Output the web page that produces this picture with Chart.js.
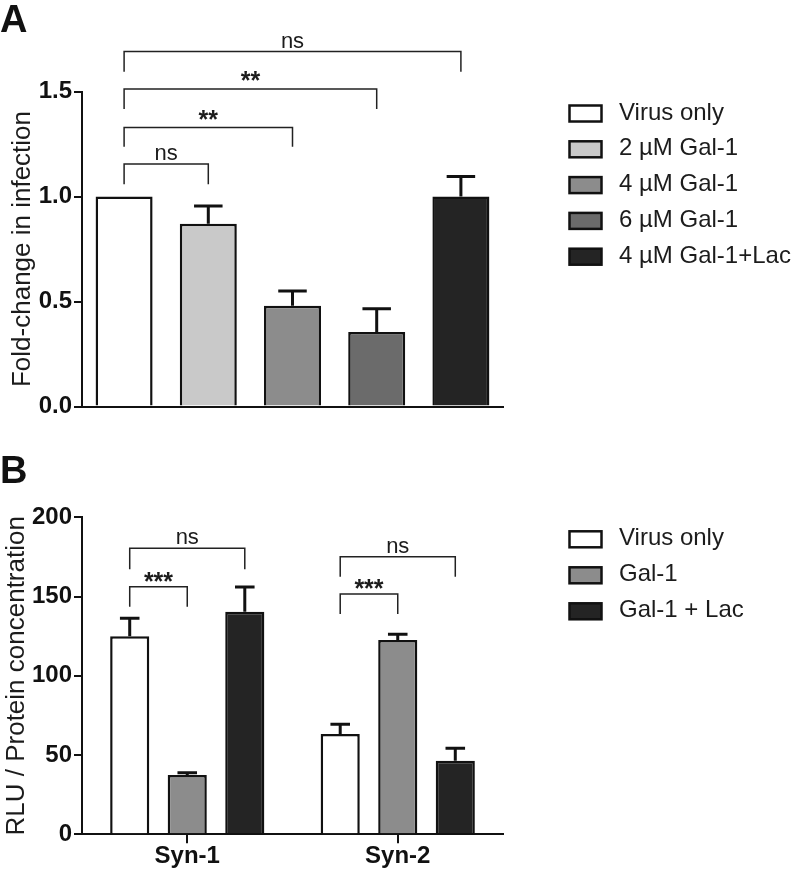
<!DOCTYPE html>
<html>
<head>
<meta charset="utf-8">
<script src="https://cdn.jsdelivr.net/npm/chart.js"></script>
<style>
  html, body { margin: 0; padding: 0; background: #fff; }
  #wrap { position: relative; width: 798px; height: 875px; }
  .panel { position: absolute; left: 0; width: 798px; }
  #panelA { top: 0; height: 430px; }
  #panelB { top: 430px; height: 445px; }
  .tag { position: absolute; left: 0; font: bold 38px/38px "Liberation Sans", Arial, sans-serif; color: #111; }
</style>
</head>
<body>
<div id="wrap">
  <div class="panel" id="panelA"><canvas id="chartA"></canvas></div>
  <div class="panel" id="panelB"><canvas id="chartB"></canvas></div>
  <div class="tag" style="top:0">A</div>
  <div class="tag" style="top:451px">B</div>
</div>
<script>
/* ---------- data, panel A ---------- */
const groupsA = ['Virus only', '2 µM Gal-1', '4 µM Gal-1', '6 µM Gal-1', '4 µM Gal-1+Lac'];
const foldChange = [1.0, 0.87, 0.48, 0.355, 1.0];
const foldChangeSem = [0, 0.085, 0.07, 0.11, 0.095];
const bracketsA = [
  { from: [0, 0], to: [0, 1], level: 1.155, drop: 1.058, label: 'ns' },
  { from: [0, 0], to: [0, 2], level: 1.328, drop: 1.237, label: '**' },
  { from: [0, 0], to: [0, 3], level: 1.512, drop: 1.417, label: '**' },
  { from: [0, 0], to: [0, 4], level: 1.690, drop: 1.594, label: 'ns' },
];

/* ---------- data, panel B ---------- */
const cellLines = ['Syn-1', 'Syn-2'];
const treatmentsB = ['Virus only', 'Gal-1', 'Gal-1 + Lac'];
const virusOnly = [125, 63.3];
const virusOnlySem = [11.3, 6.1];
const gal1 = [37.4, 122.6];
const gal1Sem = [1.5, 3.6];
const gal1Lac = [140.4, 46.4];
const gal1LacSem = [15.6, 7.9];
const bracketsB = [
  { from: [0, 0], to: [2, 0], level: 180.4, drop: 167.2, label: 'ns' },
  { from: [0, 0], to: [1, 0], level: 156.2, drop: 143.6, label: '***' },
  { from: [0, 1], to: [2, 1], level: 175.1, drop: 162.5, label: 'ns' },
  { from: [0, 1], to: [1, 1], level: 151.6, drop: 139.0, label: '***' },
];

const INK = '#111';
const TEXT = '#1c1c1c';
const FILL_A = ['#ffffff', '#c9c9c9', '#8c8c8c', '#6b6b6b', '#242424'];
const FILL_B = ['#ffffff', '#8c8c8c', '#242424'];
const SANS = '"Liberation Sans", Arial, sans-serif';
const TICK_FONT = { family: SANS, size: 24, weight: 'bold', lineHeight: 1 };

// error bars (upper half only, like the original)
const errorBars = {
  id: 'errorBars',
  afterDatasetsDraw(chart) {
    const ctx = chart.ctx;
    const y = chart.scales.y;
    ctx.save();
    ctx.strokeStyle = INK;
    ctx.lineWidth = 3;
    chart.data.datasets.forEach((ds, di) => {
      chart.getDatasetMeta(di).data.forEach((bar, i) => {
        const err = ds.errors[i];
        if (!err) return;
        const top = y.getPixelForValue(ds.data[i] + err);
        const half = bar.width / 4;
        ctx.beginPath();
        ctx.moveTo(bar.x, bar.y);
        ctx.lineTo(bar.x, top);
        ctx.moveTo(bar.x - half, top);
        ctx.lineTo(bar.x + half, top);
        ctx.stroke();
      });
    });
    ctx.restore();
  }
};

// significance brackets
const brackets = {
  id: 'brackets',
  afterDraw(chart, args, opts) {
    const ctx = chart.ctx;
    const y = chart.scales.y;
    const xOf = ([d, i]) => chart.getDatasetMeta(d).data[i].x;
    ctx.save();
    ctx.strokeStyle = '#222';
    ctx.fillStyle = TEXT;
    ctx.lineWidth = 1.5;
    ctx.textAlign = 'center';
    ctx.textBaseline = 'alphabetic';
    opts.items.forEach(b => {
      const x1 = xOf(b.from), x2 = xOf(b.to);
      const yl = y.getPixelForValue(b.level), yd = y.getPixelForValue(b.drop);
      ctx.beginPath();
      ctx.moveTo(x1, yd);
      ctx.lineTo(x1, yl);
      ctx.lineTo(x2, yl);
      ctx.lineTo(x2, yd);
      ctx.stroke();
      const stars = b.label.startsWith('*');
      ctx.font = stars ? 'bold 25px ' + SANS : '22px ' + SANS;
      ctx.fillText(b.label, (x1 + x2) / 2, yl + (stars ? opts.starShift : -4));
    });
    ctx.restore();
  }
};

// legend drawn to the right of the plot
const boxLegend = {
  id: 'boxLegend',
  afterDraw(chart, args, opts) {
    const ctx = chart.ctx;
    ctx.save();
    ctx.font = '24px ' + SANS;
    ctx.textBaseline = 'alphabetic';
    opts.labels.forEach((label, i) => {
      const cy = opts.top + i * opts.step;
      ctx.fillStyle = opts.colors[i];
      ctx.fillRect(569.5, cy - 8, 32, 16);
      ctx.lineWidth = 2.5;
      ctx.strokeStyle = INK;
      ctx.strokeRect(569.5, cy - 8, 32, 16);
      ctx.fillStyle = TEXT;
      ctx.fillText(label, 619, cy + 6);
    });
    ctx.restore();
  }
};

function yAxis(max, step, fmt, title, titlePad) {
  return {
    min: 0, max: max,
    ticks: { stepSize: step, callback: fmt, font: TICK_FONT, color: INK, padding: 2 },
    grid: { drawOnChartArea: false, drawTicks: true, tickLength: 8, color: INK, lineWidth: 2 },
    border: { color: INK, width: 2 },
    title: { display: true, text: title, color: TEXT, font: { family: SANS, size: 26 }, padding: { top: titlePad, bottom: 0 } },
    afterFit(s) { s.width = 82; },
  };
}

new Chart(document.getElementById('chartA'), {
  type: 'bar',
  data: {
    labels: groupsA,
    datasets: [{
      data: foldChange,
      errors: foldChangeSem,
      backgroundColor: FILL_A,
      borderColor: INK,
      borderWidth: 2.5,
      barPercentage: 0.677,
      categoryPercentage: 1,
    }],
  },
  options: {
    responsive: true,
    maintainAspectRatio: false,
    animation: false,
    layout: { padding: { top: 91.5, right: 295, bottom: 0, left: 0 } },
    plugins: {
      legend: { display: false },
      tooltip: { enabled: false },
      brackets: { items: bracketsA, starShift: 0 },
      boxLegend: { labels: groupsA, colors: FILL_A, top: 113.5, step: 35.8 },
    },
    scales: {
      x: {
        grid: { display: false },
        ticks: { display: false },
        border: { display: true, color: INK, width: 2 },
        afterFit(s) { s.height = 23.5; },
      },
      y: yAxis(1.5, 0.5, v => v.toFixed(1), 'Fold-change in infection', 7),
    },
  },
  plugins: [errorBars, brackets, boxLegend],
});

const seriesB = [
  { label: treatmentsB[0], data: virusOnly, errors: virusOnlySem },
  { label: treatmentsB[1], data: gal1, errors: gal1Sem },
  { label: treatmentsB[2], data: gal1Lac, errors: gal1LacSem },
];

new Chart(document.getElementById('chartB'), {
  type: 'bar',
  data: {
    labels: cellLines,
    datasets: seriesB.map((s, i) => ({
      ...s,
      backgroundColor: FILL_B[i],
      borderColor: INK,
      borderWidth: 2.5,
      barPercentage: 0.68,
      categoryPercentage: 0.82,
    })),
  },
  options: {
    responsive: true,
    maintainAspectRatio: false,
    animation: false,
    layout: { padding: { top: 87.3, right: 295, bottom: 0, left: 0 } },
    plugins: {
      legend: { display: false },
      tooltip: { enabled: false },
      brackets: { items: bracketsB, starShift: 3 },
      boxLegend: { labels: treatmentsB, colors: FILL_B, top: 109.3, step: 36 },
    },
    scales: {
      x: {
        grid: { display: true, drawOnChartArea: false, offset: false, tickLength: 9, color: INK, lineWidth: 2 },
        ticks: { font: TICK_FONT, color: INK, padding: 1 },
        border: { display: true, color: INK, width: 2 },
        afterFit(s) { s.height = 40.7; },
      },
      y: yAxis(200, 50, v => v, 'RLU / Protein concentration', 1),
    },
  },
  plugins: [errorBars, brackets, boxLegend],
});
</script>
</body>
</html>
